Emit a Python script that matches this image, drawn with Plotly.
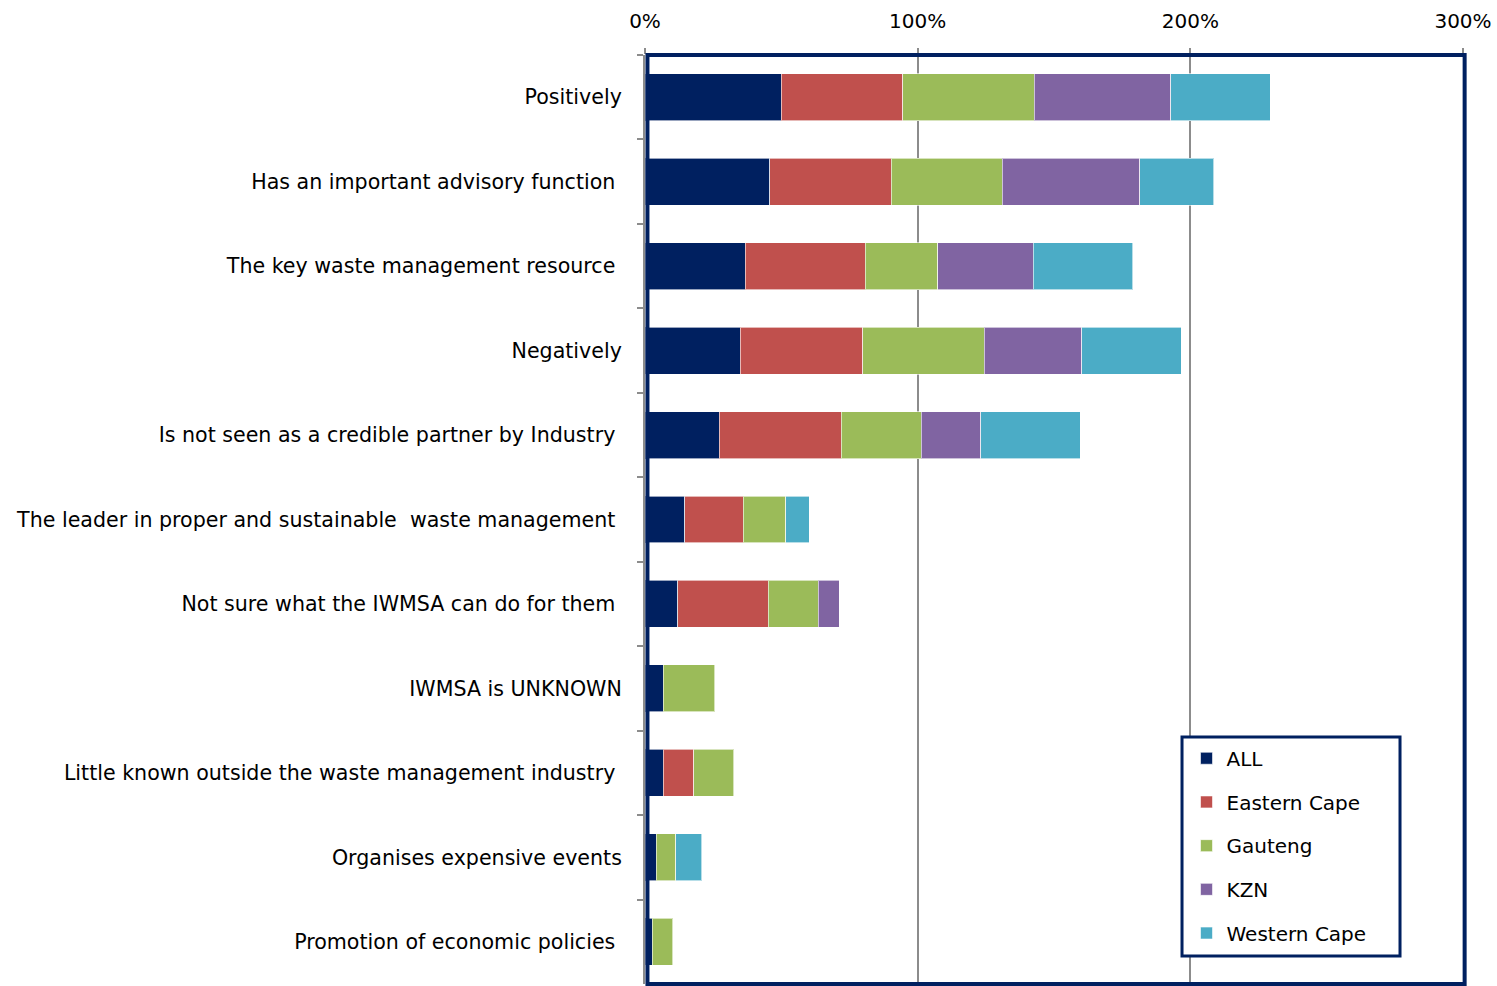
import plotly.graph_objects as go

# Survey statements, top to bottom
categories = [
    "Positively",
    "Has an important advisory function\u00a0",
    "The key waste management resource\u00a0",
    "Negatively",
    "Is not seen as a credible partner by Industry\u00a0",
    "The leader in proper and sustainable\u00a0 waste management\u00a0",
    "Not sure what the IWMSA can do for them\u00a0",
    "IWMSA is UNKNOWN",
    "Little known outside the waste management industry\u00a0",
    "Organises expensive events",
    "Promotion of economic policies\u00a0",
]

# Share of respondents (%) per region; None = no responses
all_pct      = [50.0, 45.7, 36.8, 35.0, 27.2, 14.5, 12.0, 6.7, 6.7, 4.2, 2.6]
eastern_cape = [44.5, 44.6, 44.0, 44.8, 44.7, 21.6, 33.2, None, 11.1, None, None]
gauteng      = [48.2, 40.8, 26.6, 44.6, 29.4, 15.5, 18.3, 18.8, 14.7, 7.1, 7.6]
kzn          = [50.1, 50.3, 35.0, 35.8, 21.8, None, 7.7, None, None, None, None]
western_cape = [36.5, 27.1, 36.5, 36.5, 36.5, 8.7, None, None, None, 9.5, None]

series = [
    ("ALL", all_pct, "#002060"),
    ("Eastern Cape", eastern_cape, "#C0504D"),
    ("Gauteng", gauteng, "#9BBB59"),
    ("KZN", kzn, "#8064A2"),
    ("Western Cape", western_cape, "#4BACC6"),
]

x_ticks = [0, 100, 200, 300]
x_ticklabels = ["0%", "100%", "200%", "300%"]

FONT = "DejaVu Sans"
NAVY = "#002060"
GRID = "#8C8C8C"

fig = go.Figure()
for name, values, color in series:
    fig.add_trace(go.Bar(
        y=categories,
        x=values,
        name=name,
        orientation="h",
        legendgroup=name,
        marker=dict(color=color, line=dict(color="rgba(255,255,255,0.6)", width=1)),
        hoverinfo="x+y+name",
    ))

fig.update_layout(
    width=1497,
    height=986,
    margin=dict(l=645, r=34, t=55, b=2),
    paper_bgcolor="white",
    plot_bgcolor="white",
    barmode="stack",
    bargap=0.444,
    font=dict(family=FONT, size=20, color="#000000"),
    showlegend=True,
    legend=dict(
        x=0.662, xanchor="left",
        y=0.264, yanchor="top",
        bgcolor="rgba(0,0,0,0)",
        borderwidth=0,
        traceorder="grouped",
        tracegroupgap=14.7,
        font=dict(family=FONT, size=20, color="#000000"),
    ),
    xaxis=dict(
        side="top",
        range=[0, 300],
        tickvals=x_ticks,
        ticktext=x_ticklabels,
        showgrid=True,
        gridcolor=GRID,
        gridwidth=1.5,
        zeroline=False,
        ticks="outside",
        ticklen=6,
        tickwidth=1.5,
        tickcolor=GRID,
        ticklabelstandoff=12,
        tickfont=dict(family=FONT, size=20, color="#000000"),
        fixedrange=True,
    ),
    yaxis=dict(
        type="category",
        autorange="reversed",
        showgrid=False,
        zeroline=False,
        showline=True,
        linecolor=GRID,
        linewidth=2,
        ticks="outside",
        tickson="boundaries",
        ticklen=6,
        tickwidth=1.5,
        tickcolor=GRID,
        ticklabelstandoff=17,
        tickfont=dict(family=FONT, size=20.6, color="#000000"),
        fixedrange=True,
    ),
    shapes=[
        # frame around the plotting area
        dict(type="rect", xref="paper", yref="paper", x0=0.003, x1=1.002, y0=0.0, y1=1.0,
             line=dict(color=NAVY, width=4), fillcolor="rgba(0,0,0,0)", layer="above"),
        # legend box
        dict(type="rect", xref="paper", yref="paper", x0=0.6565, x1=0.923, y0=0.0301, y1=0.2659,
             line=dict(color=NAVY, width=3), fillcolor="white", layer="above"),
    ],
)

fig.write_html("out.html")
